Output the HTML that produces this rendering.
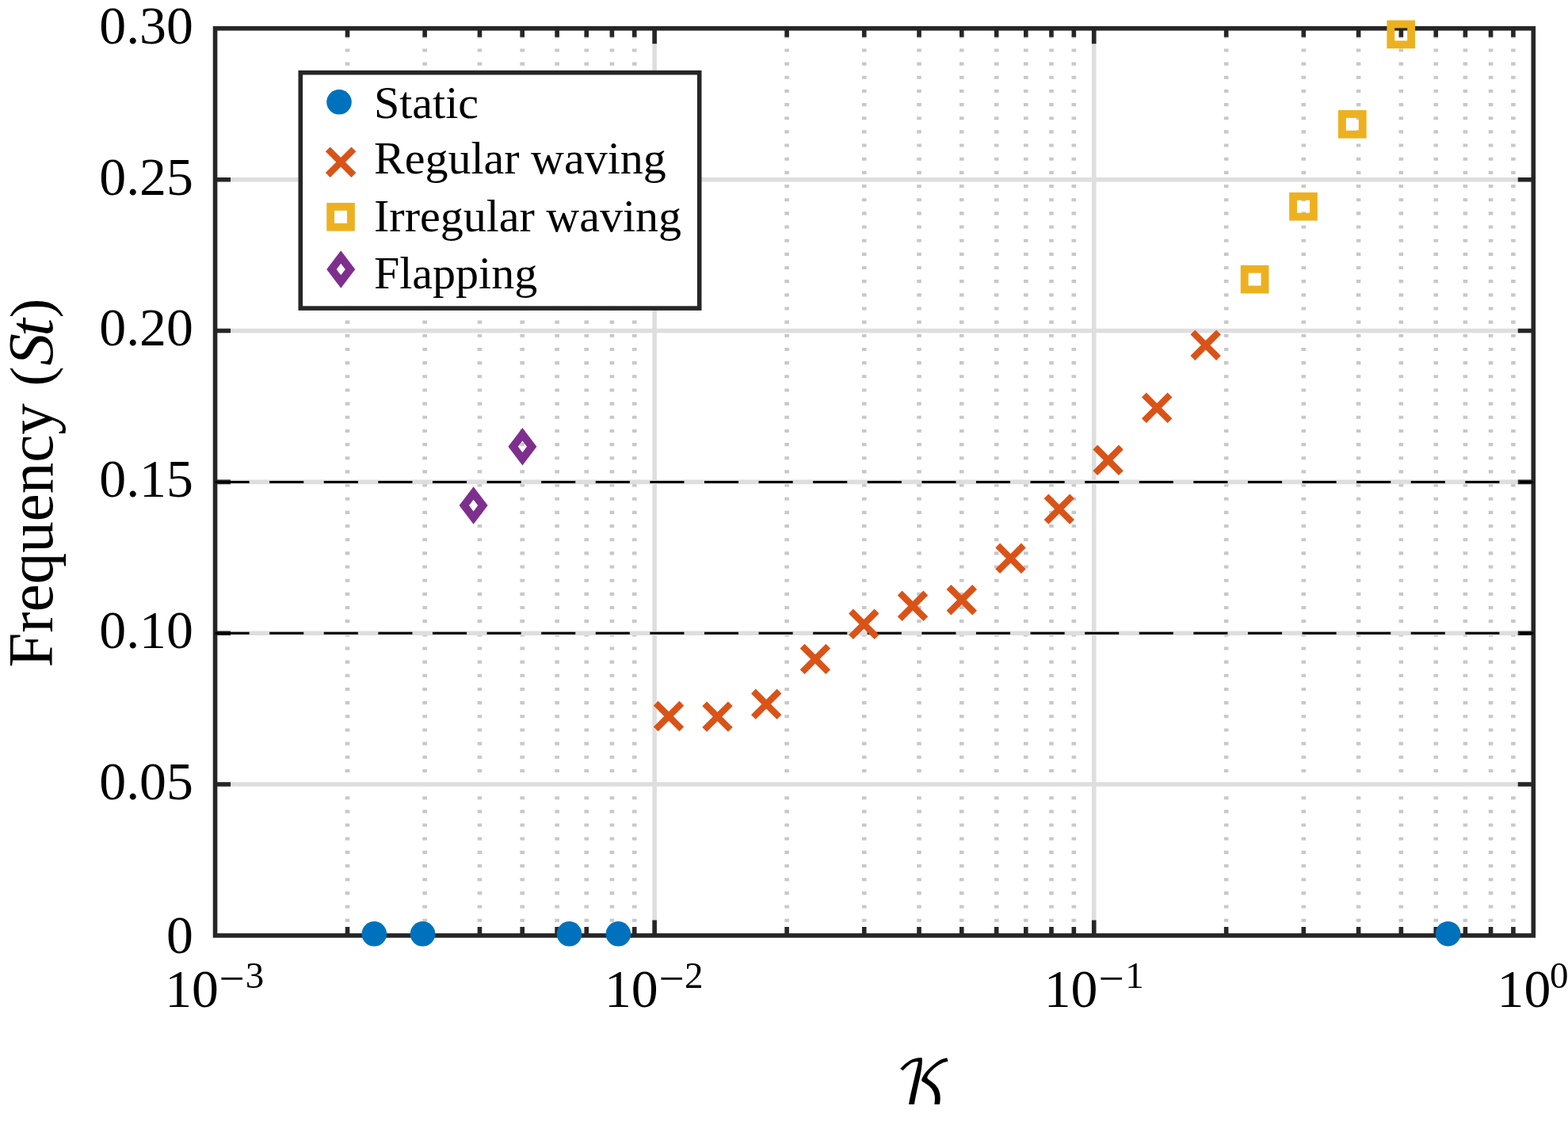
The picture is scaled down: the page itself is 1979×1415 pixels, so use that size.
<!DOCTYPE html><html><head><meta charset="utf-8"><style>html,body{margin:0;padding:0;background:#fff;}svg{display:block;}text{font-family:"Liberation Serif","DejaVu Serif",serif;fill:#000;}</style></head><body>
<svg width="1979" height="1415" viewBox="0 0 1979 1415">
<rect x="0" y="0" width="1979" height="1415" fill="#fff"/>
<path d="M438.50 1180.90V35.85M536.15 1180.90V35.85M605.44 1180.90V35.85M659.19 1180.90V35.85M703.10 1180.90V35.85M740.23 1180.90V35.85M772.39 1180.90V35.85M800.76 1180.90V35.85M993.08 1180.90V35.85M1090.74 1180.90V35.85M1160.03 1180.90V35.85M1213.77 1180.90V35.85M1257.68 1180.90V35.85M1294.81 1180.90V35.85M1326.97 1180.90V35.85M1355.34 1180.90V35.85M1547.66 1180.90V35.85M1645.32 1180.90V35.85M1714.61 1180.90V35.85M1768.35 1180.90V35.85M1812.27 1180.90V35.85M1849.39 1180.90V35.85M1881.56 1180.90V35.85M1909.92 1180.90V35.85" stroke="#c8c8c8" stroke-width="5.6" stroke-dasharray="4.1 13.06" fill="none"/>
<path d="M271.55 990.06H1935.30M271.55 799.22H1935.30M271.55 608.38H1935.30M271.55 417.53H1935.30M271.55 226.69H1935.30M826.13 1180.90V35.85M1380.72 1180.90V35.85" stroke="#dedede" stroke-width="5.6" fill="none"/>
<rect x="271.55" y="35.85" width="1663.75" height="1145.05" fill="none" stroke="#262626" stroke-width="5.6"/>
<path d="M271.55 990.06h19.5M1935.30 990.06h-19.5M271.55 799.22h19.5M1935.30 799.22h-19.5M271.55 608.38h19.5M1935.30 608.38h-19.5M271.55 417.53h19.5M1935.30 417.53h-19.5M271.55 226.69h19.5M1935.30 226.69h-19.5M826.13 1180.90v-19.5M826.13 35.85v19.5M1380.72 1180.90v-19.5M1380.72 35.85v19.5M438.50 1180.90v-10.9M438.50 35.85v10.9M536.15 1180.90v-10.9M536.15 35.85v10.9M605.44 1180.90v-10.9M605.44 35.85v10.9M659.19 1180.90v-10.9M659.19 35.85v10.9M703.10 1180.90v-10.9M703.10 35.85v10.9M740.23 1180.90v-10.9M740.23 35.85v10.9M772.39 1180.90v-10.9M772.39 35.85v10.9M800.76 1180.90v-10.9M800.76 35.85v10.9M993.08 1180.90v-10.9M993.08 35.85v10.9M1090.74 1180.90v-10.9M1090.74 35.85v10.9M1160.03 1180.90v-10.9M1160.03 35.85v10.9M1213.77 1180.90v-10.9M1213.77 35.85v10.9M1257.68 1180.90v-10.9M1257.68 35.85v10.9M1294.81 1180.90v-10.9M1294.81 35.85v10.9M1326.97 1180.90v-10.9M1326.97 35.85v10.9M1355.34 1180.90v-10.9M1355.34 35.85v10.9M1547.66 1180.90v-10.9M1547.66 35.85v10.9M1645.32 1180.90v-10.9M1645.32 35.85v10.9M1714.61 1180.90v-10.9M1714.61 35.85v10.9M1768.35 1180.90v-10.9M1768.35 35.85v10.9M1812.27 1180.90v-10.9M1812.27 35.85v10.9M1849.39 1180.90v-10.9M1849.39 35.85v10.9M1881.56 1180.90v-10.9M1881.56 35.85v10.9M1909.92 1180.90v-10.9M1909.92 35.85v10.9" stroke="#262626" stroke-width="5.6" fill="none"/>
<path d="M271.55 799.22H1935.30" stroke="#000" stroke-width="3" stroke-dasharray="43.1 25.5" fill="none"/>
<path d="M271.55 608.38H1935.30" stroke="#000" stroke-width="3" stroke-dasharray="43.1 25.5" fill="none"/>
<circle cx="472.3" cy="1178.8" r="15.8" fill="#0072BD"/>
<circle cx="533.5" cy="1178.8" r="15.8" fill="#0072BD"/>
<circle cx="718.5" cy="1178.8" r="15.8" fill="#0072BD"/>
<circle cx="780.35" cy="1178.8" r="15.8" fill="#0072BD"/>
<circle cx="1827.6" cy="1178.7" r="15.8" fill="#0072BD"/>
<path d="M827.70 887.75L860.30 920.35M827.70 920.35L860.30 887.75" stroke="#D95319" stroke-width="8.2" fill="none"/>
<path d="M889.20 888.30L921.80 920.90M889.20 920.90L921.80 888.30" stroke="#D95319" stroke-width="8.2" fill="none"/>
<path d="M950.90 872.50L983.50 905.10M950.90 905.10L983.50 872.50" stroke="#D95319" stroke-width="8.2" fill="none"/>
<path d="M1012.60 815.60L1045.20 848.20M1012.60 848.20L1045.20 815.60" stroke="#D95319" stroke-width="8.2" fill="none"/>
<path d="M1074.00 771.50L1106.60 804.10M1074.00 804.10L1106.60 771.50" stroke="#D95319" stroke-width="8.2" fill="none"/>
<path d="M1135.70 748.50L1168.30 781.10M1135.70 781.10L1168.30 748.50" stroke="#D95319" stroke-width="8.2" fill="none"/>
<path d="M1197.50 741.00L1230.10 773.60M1197.50 773.60L1230.10 741.00" stroke="#D95319" stroke-width="8.2" fill="none"/>
<path d="M1259.20 688.50L1291.80 721.10M1259.20 721.10L1291.80 688.50" stroke="#D95319" stroke-width="8.2" fill="none"/>
<path d="M1320.50 626.30L1353.10 658.90M1320.50 658.90L1353.10 626.30" stroke="#D95319" stroke-width="8.2" fill="none"/>
<path d="M1382.30 564.50L1414.90 597.10M1382.30 597.10L1414.90 564.50" stroke="#D95319" stroke-width="8.2" fill="none"/>
<path d="M1443.90 498.50L1476.50 531.10M1443.90 531.10L1476.50 498.50" stroke="#D95319" stroke-width="8.2" fill="none"/>
<path d="M1505.40 419.40L1538.00 452.00M1505.40 452.00L1538.00 419.40" stroke="#D95319" stroke-width="8.2" fill="none"/>
<rect x="1570.70" y="339.70" width="25.80" height="25.80" stroke="#EDB120" stroke-width="9.85" fill="none"/>
<rect x="1632.10" y="247.80" width="25.80" height="25.80" stroke="#EDB120" stroke-width="9.85" fill="none"/>
<rect x="1693.90" y="143.90" width="25.80" height="25.80" stroke="#EDB120" stroke-width="9.85" fill="none"/>
<rect x="1755.30" y="30.50" width="25.80" height="25.80" stroke="#EDB120" stroke-width="9.85" fill="none"/>
<path d="M597.60 622.55L609.40 638.10L597.60 653.65L585.80 638.10Z" stroke="#7E2F8E" stroke-width="9.9" stroke-miterlimit="10" fill="none"/>
<path d="M659.40 548.25L671.20 563.80L659.40 579.35L647.60 563.80Z" stroke="#7E2F8E" stroke-width="9.9" stroke-miterlimit="10" fill="none"/>
<rect x="379.3" y="91.65" width="503.40" height="297.45" fill="#fff" stroke="#262626" stroke-width="5.6"/>
<circle cx="428.0" cy="128.8" r="15.8" fill="#0072BD"/>
<path d="M413.80 188.40L446.40 221.00M413.80 221.00L446.40 188.40" stroke="#D95319" stroke-width="8.2" fill="none"/>
<rect x="417.15" y="260.90" width="25.80" height="25.80" stroke="#EDB120" stroke-width="9.85" fill="none"/>
<path d="M430.25 324.50L442.05 340.05L430.25 355.60L418.45 340.05Z" stroke="#7E2F8E" stroke-width="9.9" stroke-miterlimit="10" fill="none"/>
<text transform="translate(472.00,148.80)" font-size="58.0">Static</text>
<text transform="translate(472.00,218.50)" font-size="58.0">Regular waving</text>
<text transform="translate(472.00,292.30)" font-size="58.0">Irregular waving</text>
<text transform="translate(472.00,364.00)" font-size="58.0">Flapping</text>
<text transform="translate(243.90,54.75)" font-size="67.8" text-anchor="end">0.30</text>
<text transform="translate(243.90,245.59)" font-size="67.8" text-anchor="end">0.25</text>
<text transform="translate(243.90,436.43)" font-size="67.8" text-anchor="end">0.20</text>
<text transform="translate(243.90,627.27)" font-size="67.8" text-anchor="end">0.15</text>
<text transform="translate(243.90,818.12)" font-size="67.8" text-anchor="end">0.10</text>
<text transform="translate(243.90,1008.96)" font-size="67.8" text-anchor="end">0.05</text>
<text transform="translate(243.90,1203.10)" font-size="67.8" text-anchor="end">0</text>
<text font-size="67.8"><tspan x="208.20" y="1270.5">10</tspan><tspan x="276.60" y="1254.4" font-size="57.0">&#8722;</tspan><tspan x="309.70" y="1246.8" font-size="47.0">3</tspan></text>
<text font-size="67.8"><tspan x="762.90" y="1270.5">10</tspan><tspan x="831.60" y="1254.4" font-size="57.0">&#8722;</tspan><tspan x="864.00" y="1246.8" font-size="47.0">2</tspan></text>
<text font-size="67.8"><tspan x="1317.70" y="1270.5">10</tspan><tspan x="1386.40" y="1254.4" font-size="57.0">&#8722;</tspan><tspan x="1420.30" y="1246.8" font-size="47.0">1</tspan></text>
<text font-size="67.8"><tspan x="1889.50" y="1270.5">10</tspan><tspan x="1956.00" y="1246.8" font-size="47.0">0</tspan></text>
<text transform="translate(66.2,842.6) rotate(-90)" font-size="81"><tspan textLength="333.4" lengthAdjust="spacingAndGlyphs">Frequency</tspan> <tspan x="355.1" y="-2.2" font-size="74.5">(</tspan><tspan x="381.1 418.2" y="0.1" font-style="italic">St</tspan><tspan x="441.0" y="-2.2" font-size="74.5">)</tspan></text>
<text x="1129.9" y="1394.2" font-size="77" style="font-family:'DejaVu Math TeX Gyre','Latin Modern Math','STIX Two Math',serif">&#x1D4A6;</text>
</svg></body></html>
